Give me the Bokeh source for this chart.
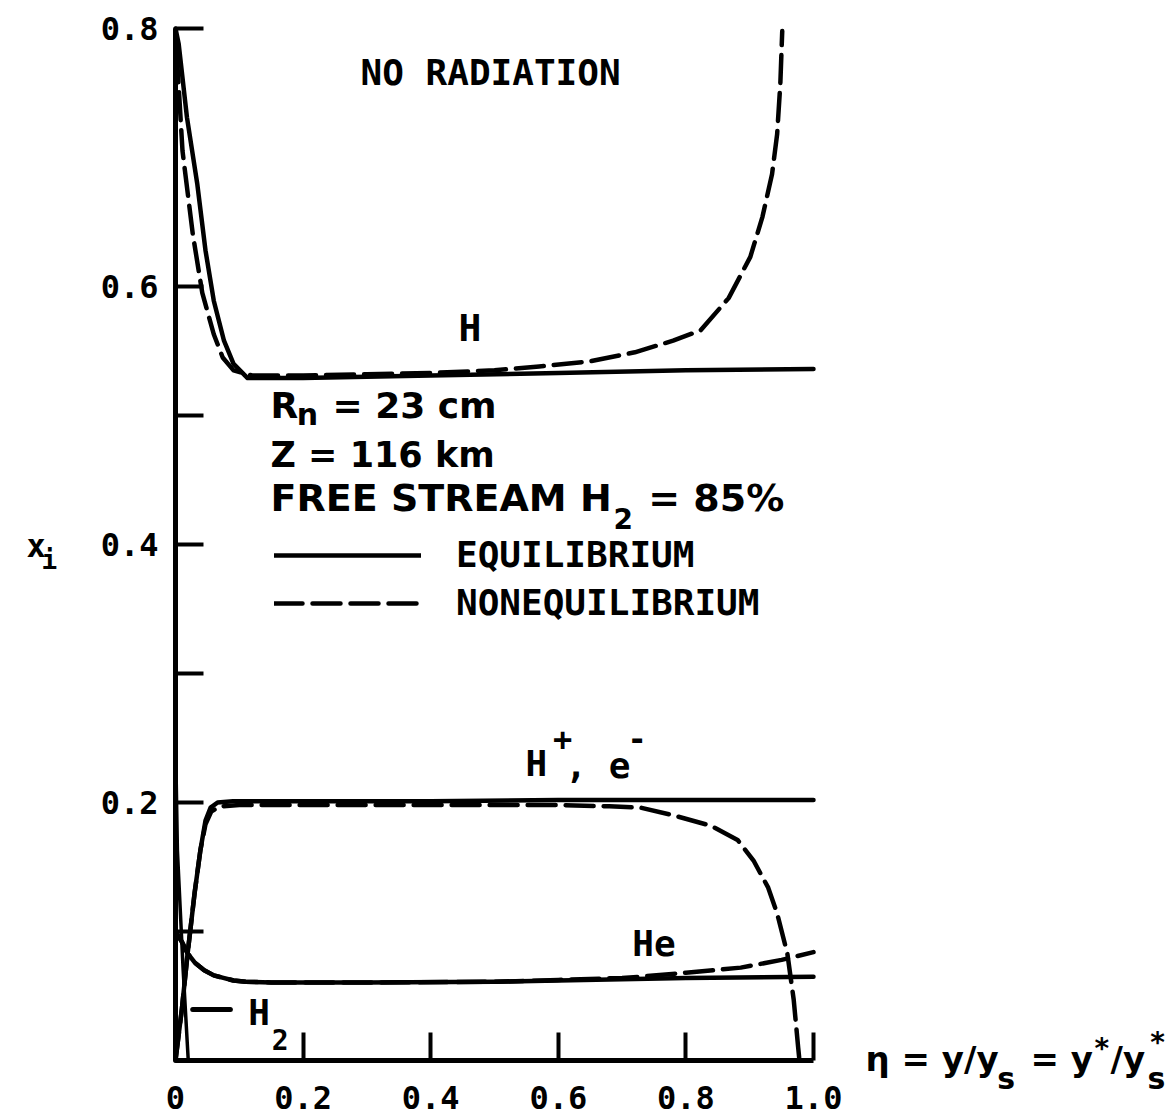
from bokeh.plotting import figure
from bokeh.models import Range1d, FixedTicker, Label, Legend, LegendItem, CustomJSTickFormatter
from bokeh.embed import file_html
from bokeh.resources import INLINE

# ---------------- data ----------------
eta_H_eq = [0.0, 0.005, 0.018, 0.034, 0.047, 0.060, 0.076, 0.091, 0.113, 0.2, 0.4, 0.6, 0.8, 1.0]
H_eq = [0.800, 0.788, 0.731, 0.680, 0.628, 0.589, 0.558, 0.540, 0.529, 0.529, 0.531, 0.533, 0.535, 0.536]

eta_H_ne = [0.002, 0.011, 0.027, 0.042, 0.060, 0.074, 0.091, 0.12, 0.2, 0.3, 0.4, 0.5, 0.57,
            0.65, 0.72, 0.78, 0.823, 0.867, 0.901, 0.920, 0.935, 0.943, 0.948, 0.951]
H_ne = [0.780, 0.705, 0.641, 0.595, 0.563, 0.545, 0.535, 0.531, 0.531, 0.532, 0.533, 0.535, 0.538,
        0.542, 0.549, 0.558, 0.566, 0.591, 0.623, 0.654, 0.687, 0.718, 0.757, 0.798]

eta_Hp_eq = [0.0, 0.01, 0.019, 0.03, 0.039, 0.047, 0.055, 0.066, 0.09, 0.2, 0.4, 0.6, 0.8, 1.0]
Hp_eq = [0.0, 0.040, 0.083, 0.130, 0.163, 0.186, 0.196, 0.200, 0.201, 0.201, 0.201, 0.202, 0.202, 0.202]

eta_Hp_ne = [0.0, 0.01, 0.019, 0.03, 0.039, 0.047, 0.056, 0.07, 0.1, 0.2, 0.3, 0.4, 0.5, 0.6,
             0.68, 0.729, 0.781, 0.839, 0.881, 0.906, 0.929, 0.943, 0.959, 0.969, 0.976, 0.978]
Hp_ne = [0.0, 0.040, 0.083, 0.130, 0.163, 0.183, 0.193, 0.197, 0.198, 0.198, 0.198, 0.198, 0.198, 0.198,
         0.197, 0.196, 0.190, 0.182, 0.171, 0.155, 0.134, 0.114, 0.083, 0.047, 0.010, 0.0]

eta_He_eq = [0.0, 0.01, 0.019, 0.03, 0.045, 0.06, 0.075, 0.091, 0.11, 0.15, 0.3, 0.5, 0.6, 0.8, 1.0]
He_eq = [0.100, 0.092, 0.083, 0.076, 0.070, 0.066, 0.064, 0.062, 0.061, 0.0605, 0.0605, 0.061, 0.062, 0.064, 0.065]

eta_He_ne = [0.0, 0.01, 0.019, 0.03, 0.045, 0.06, 0.075, 0.091, 0.11, 0.15, 0.3, 0.5, 0.6, 0.7,
             0.729, 0.8, 0.886, 0.95, 1.0]
He_ne = [0.100, 0.092, 0.083, 0.076, 0.070, 0.066, 0.064, 0.062, 0.061, 0.0605, 0.0605, 0.061, 0.0625, 0.064,
         0.065, 0.068, 0.072, 0.078, 0.084]

eta_H2_eq = [0.0, 0.003, 0.012, 0.02]
H2_eq = [0.25, 0.163, 0.070, 0.0]

x_ticks = [0.0, 0.2, 0.4, 0.6, 0.8, 1.0]
y_ticks = [0.2, 0.4, 0.6, 0.8]
y_minor_ticks = [0.1, 0.3, 0.5]

# ---------------- figure ----------------
MONO = "DejaVu Sans Mono"
SANS = "DejaVu Sans"

W, H = 1172, 1118
p = figure(width=W, height=H, output_backend="svg", toolbar_location=None,
           x_range=Range1d(-0.27429, 1.56270), y_range=Range1d(-0.04496, 0.82171),
           min_border_left=0, min_border_right=0, min_border_top=0, min_border_bottom=0)
p.outline_line_color = None
p.xgrid.visible = False
p.ygrid.visible = False
p.background_fill_color = "white"
p.border_fill_color = "white"

for ax in (p.xaxis[0], p.yaxis[0]):
    ax.fixed_location = 0
    ax.axis_line_width = 5
    ax.axis_line_color = "black"
    ax.major_tick_line_width = 4
    ax.minor_tick_line_width = 4
    ax.major_tick_line_color = "black"
    ax.minor_tick_line_color = "black"
    ax.major_tick_out = 0
    ax.minor_tick_out = 0
    ax.major_tick_in = 28
    ax.minor_tick_in = 28
    ax.major_label_text_font = MONO
    ax.major_label_text_font_style = "bold"
    ax.major_label_text_font_size = "32px"
    ax.major_label_text_color = "black"

p.xaxis[0].bounds = (0, 1.0)
p.xaxis[0].ticker = FixedTicker(ticks=x_ticks, minor_ticks=[])
p.xaxis[0].formatter = CustomJSTickFormatter(code="return tick == 0 ? '0' : tick.toFixed(1);")
p.xaxis[0].major_label_standoff = 25

p.yaxis[0].bounds = (0, 0.8)
p.yaxis[0].ticker = FixedTicker(ticks=y_ticks, minor_ticks=y_minor_ticks)
p.yaxis[0].formatter = CustomJSTickFormatter(code="return tick.toFixed(1);")
p.yaxis[0].major_label_standoff = 17

LW = 4.5
r_H_eq = p.line(eta_H_eq, H_eq, line_width=LW, color="black", line_join="round", line_cap="round")
r_H_ne = p.line(eta_H_ne, H_ne, line_width=LW, color="black", line_dash="28 10", line_join="round", line_cap="round")
p.line(eta_Hp_eq, Hp_eq, line_width=LW, color="black", line_join="round", line_cap="round")
p.line(eta_Hp_ne, Hp_ne, line_width=LW, color="black", line_dash="28 10", line_join="round", line_cap="round")
p.line(eta_He_eq, He_eq, line_width=LW, color="black", line_join="round", line_cap="round")
p.line(eta_He_ne, He_ne, line_width=LW, color="black", line_dash="28 10", line_join="round", line_cap="round")
p.line(eta_H2_eq, H2_eq, line_width=3.5, color="black", line_join="round", line_cap="round")

# leader for the H2 label
p.line([0.027, 0.086], [0.0395, 0.0395], line_width=5, color="black", line_cap="round")

legend = Legend(items=[LegendItem(label="EQUILIBRIUM", renderers=[r_H_eq]),
                       LegendItem(label="NONEQUILIBRIUM", renderers=[r_H_ne])],
                location=(274, 495), orientation="vertical", padding=0, margin=0, spacing=7,
                glyph_width=147, glyph_height=40, label_height=40, label_standoff=35,
                label_text_font=MONO, label_text_font_style="bold", label_text_color="black",
                label_text_font_size="36px", border_line_color=None, background_fill_alpha=0)
p.add_layout(legend)


def lab(x, y, text, font=MONO, size="36px", align="left", baseline="middle", style="bold"):
    p.add_layout(Label(x=x, y=y, text=text, text_font=font, text_font_size=size,
                       text_font_style=style, text_align=align, text_baseline=baseline,
                       text_color="black"))


lab(0.290, 0.766, "NO RADIATION")
lab(0.4436, 0.568, "H", size="38px")

# H+, e-
lab(0.5486, 0.2302, "H", size="36px")
lab(0.5917, 0.2496, "+", size="32px")
lab(0.611, 0.2287, ", e", size="36px")
lab(0.7085, 0.2496, "-", size="32px")

lab(0.716, 0.0907, "He", size="36px")

# H2
lab(0.114, 0.037, "H", size="36px")
lab(0.151, 0.016, "2", size="28px")

# condition block
lab(0.149, 0.5078, "R", font=SANS, size="36px")
lab(0.190, 0.5008, "n", font=SANS, size="30px")
lab(0.246, 0.5078, "= 23 cm", font=SANS, size="36px")
lab(0.149, 0.469, "Z = 116 km", font=SANS, size="35px")
lab(0.149, 0.4357, "FREE STREAM H", font=SANS, size="38px")
lab(0.6865, 0.420, "2", font=SANS, size="28px")
lab(0.741, 0.4357, "= 85%", font=SANS, size="38px")

# y-axis title x_i
lab(-0.2335, 0.399, "x", size="32px")
lab(-0.210, 0.3876, "i", size="26px")

# x-axis title  eta = y/y_s = y*/y_s*
lab(1.0815, 0.00155, "\u03b7 = y/y", font=SANS, size="34px")
lab(1.288, -0.01395, "s", font=SANS, size="30px")
lab(1.340, 0.00155, "= y", font=SANS, size="34px")
lab(1.4404, 0.0093, "*", font=SANS, size="28px")
lab(1.4655, 0.00155, "/y", font=SANS, size="34px")
lab(1.5235, -0.01395, "s", font=SANS, size="30px")
lab(1.528, 0.01395, "*", font=SANS, size="28px")

open("out.html", "w").write(file_html(p, INLINE))
